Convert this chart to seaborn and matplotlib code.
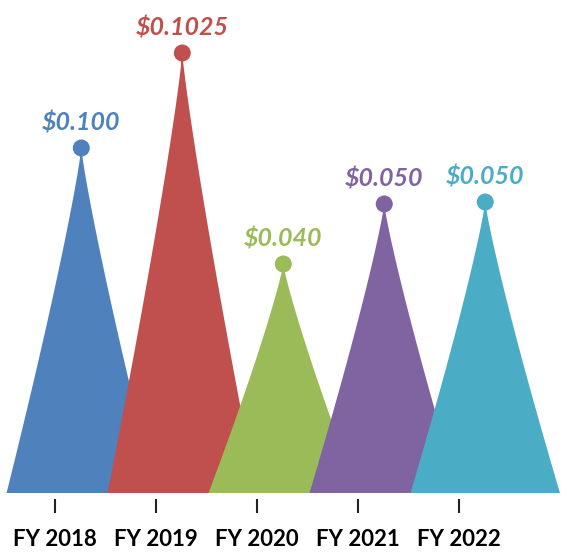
import numpy as np
import matplotlib
matplotlib.use("Agg")
import matplotlib.pyplot as plt
import seaborn as sns

# chart data
years = ["FY 2018", "FY 2019", "FY 2020", "FY 2021", "FY 2022"]
values = [0.100, 0.1025, 0.040, 0.050, 0.050]
value_labels = ["$0.100", "$0.1025", "$0.040", "$0.050", "$0.050"]
# drawn peak heights (the infographic is not to scale)
peak_heights = [3.45, 4.40, 2.29, 2.89, 2.91]
colors = ["#4F81BD", "#C0504D", "#9BBB59", "#8064A2", "#4BACC6"]

sns.set_theme(style="white")
plt.rcParams["font.family"] = ["Lato", "DejaVu Sans"]

fig = plt.figure(figsize=(5.74, 5.54), dpi=100)
ax = fig.add_axes([0, 61 / 554, 1, 493 / 554])

half_w = 0.74
shift = 0.26
t = np.linspace(0, 1, 60)

for i, (h, c) in enumerate(zip(peak_heights, colors)):
    cx = i + shift
    # slightly pinched sides near the tip
    w = half_w * t ** 1.15
    y = h * (1 - t)
    xs = np.concatenate([cx - w, (cx + w)[::-1]])
    ys = np.concatenate([y, y[::-1]])
    ax.fill(xs, ys, color=c, lw=0, zorder=2 + i)
    ax.plot([cx, cx], [h, h - 0.2], color=c, lw=1.5, zorder=2 + i)

peaks = [i + shift for i in range(len(years))]
sns.scatterplot(x=peaks, y=peak_heights, hue=years, palette=colors, s=150,
                edgecolor="none", legend=False, ax=ax, zorder=10)

for px, h, lab, c in zip(peaks, peak_heights, value_labels, colors):
    ax.annotate(lab, (px, h), xytext=(0, 18), textcoords="offset points",
                ha="center", va="center", color=c, fontsize=18,
                fontweight="bold", fontstyle="italic")

for s in ["top", "left", "right", "bottom"]:
    ax.spines[s].set_visible(False)
ax.spines["bottom"].set_position(("outward", 4))

ax.set_xlim(-0.545, 5.139)
ax.set_ylim(0, 4.93)
ax.set_xticks(range(len(years)))
ax.set_xticklabels(years, fontsize=16, fontweight="bold", color="black")
ax.set_yticks([])
ax.tick_params(axis="x", bottom=True, length=10, width=1.5, color="#222222", pad=12)
ax.set_facecolor("none")

fig.savefig("out.png", dpi=100)
